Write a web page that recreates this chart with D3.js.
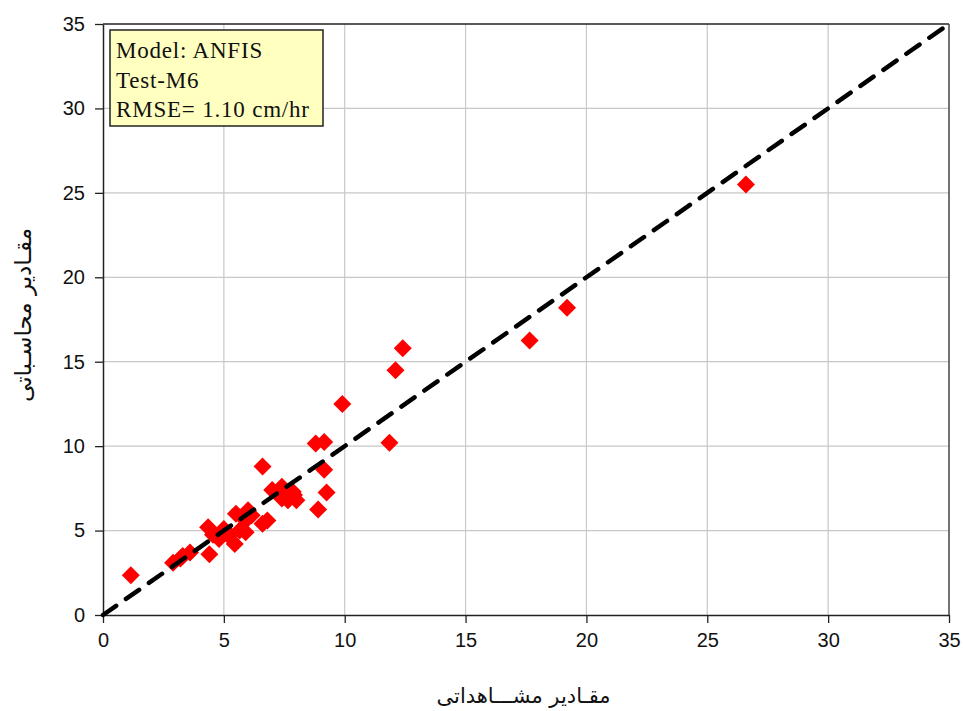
<!DOCTYPE html>
<html>
<head>
<meta charset="utf-8">
<script src="https://cdn.jsdelivr.net/npm/d3@7"></script>
<style>
  body { margin: 0; background: #fff; }
  svg { display: block; }
</style>
</head>
<body>
<svg id="chart" width="963" height="711"></svg>
<script>
var observed = [1.15, 2.9, 3.2, 3.3, 3.6, 4.4, 4.35, 4.55, 4.8, 5.0,
                5.2, 5.45, 5.5, 5.65, 5.9, 5.9, 6.0, 6.15, 6.6, 6.6,
                6.8, 7.0, 7.4, 7.4, 7.65, 7.85, 7.9, 8.0, 8.8, 9.15,
                9.15, 9.25, 8.9, 9.9, 11.85, 12.1, 12.4, 17.65, 19.2, 26.6]
var computed = [2.35, 3.1, 3.35, 3.5, 3.7, 3.6, 5.2, 4.75, 4.5, 5.1,
                4.7, 4.2, 6.0, 5.0, 4.9, 5.6, 6.2, 5.9, 8.8, 5.4,
                5.6, 7.4, 7.6, 6.9, 6.8, 7.3, 7.1, 6.8, 10.15, 10.25,
                8.6, 7.25, 6.25, 12.5, 10.2, 14.5, 15.8, 16.25, 18.2, 25.5]
var ticks = [0, 5, 10, 15, 20, 25, 30, 35]
var lineEnds = [0, 35]
var legendLines = ['Model: ANFIS', 'Test-M6', 'RMSE= 1.10 cm/hr']
var xTitle = 'مقـادیر مشـــاهداتی'
var yTitle = 'مقـادیر محاسـباتی'

var svg = d3.select('#chart')
var margin = { left: 103, top: 24, right: 14, bottom: 96 }
var W = 963 - margin.left - margin.right
var H = 711 - margin.top - margin.bottom

var x = d3.scaleLinear().domain([0, 35]).range([0, W])
var y = d3.scaleLinear().domain([0, 35]).range([H, 0])

var g = svg.append('g').attr('transform', `translate(${margin.left},${margin.top})`)

// grid
g.append('g').selectAll('line').data(ticks.slice(1, -1)).join('line')
    .attr('x1', d => x(d)).attr('x2', d => x(d))
    .attr('y1', 0).attr('y2', H)
    .attr('stroke', '#c8c8c8').attr('stroke-width', 1.2)
g.append('g').selectAll('line').data(ticks.slice(1, -1)).join('line')
    .attr('y1', d => y(d)).attr('y2', d => y(d))
    .attr('x1', 0).attr('x2', W)
    .attr('stroke', '#c8c8c8').attr('stroke-width', 1.2)

// frame top/right
g.append('line').attr('x1', 0).attr('x2', W).attr('y1', 0).attr('y2', 0)
    .attr('stroke', '#222').attr('stroke-width', 1.5)
g.append('line').attr('x1', W).attr('x2', W).attr('y1', 0).attr('y2', H)
    .attr('stroke', '#444').attr('stroke-width', 1.5)

// axes
var xAxis = g.append('g').attr('transform', `translate(0,${H})`)
    .call(d3.axisBottom(x).tickValues(ticks).tickSize(8).tickPadding(10).tickSizeOuter(0))
var yAxis = g.append('g')
    .call(d3.axisLeft(y).tickValues(ticks).tickSize(8).tickPadding(10).tickSizeOuter(0))
for (let ax of [xAxis, yAxis]) {
    ax.select('.domain').attr('stroke', '#222').attr('stroke-width', 1.5)
    ax.selectAll('.tick line').attr('stroke', '#222').attr('stroke-width', 1.3)
    ax.selectAll('text').attr('font-family', 'Liberation Sans, Arial, sans-serif')
        .attr('font-size', 20).attr('fill', '#111')
}

// points (rotated squares)
var half = 9
var diamond = `M0,${-half}L${half},0L0,${half}L${-half},0Z`
g.append('g').selectAll('path').data(observed.map((d, i) => [d, computed[i]])).join('path')
    .attr('d', diamond)
    .attr('transform', d => `translate(${x(d[0])},${y(d[1])})`)
    .attr('fill', '#ff0000')

// 1:1 line
g.append('line')
    .attr('x1', x(lineEnds[0])).attr('y1', y(lineEnds[0]))
    .attr('x2', x(lineEnds[1])).attr('y2', y(lineEnds[1]))
    .attr('stroke', '#000').attr('stroke-width', 4.5)
    .attr('stroke-dasharray', '16,12').attr('stroke-linecap', 'round')

// legend box
var box = svg.append('g').attr('transform', 'translate(110,30)')
box.append('rect').attr('width', 213).attr('height', 96)
    .attr('fill', '#ffffc0').attr('stroke', '#222').attr('stroke-width', 1.5)
box.selectAll('text').data(legendLines).join('text')
    .attr('x', 6).attr('y', (d, i) => 28 + i * 29.5)
    .attr('font-family', 'Liberation Serif, Times New Roman, serif')
    .attr('font-size', 23).attr('letter-spacing', 0.8).attr('fill', '#111')
    .text(d => d)

// titles
svg.append('text')
    .attr('x', margin.left + x(17.4)).attr('y', 703)
    .attr('text-anchor', 'middle')
    .attr('font-family', 'DejaVu Sans, sans-serif').attr('font-size', 21)
    .attr('direction', 'rtl')
    .attr('fill', '#111')
    .text(xTitle)
svg.append('text')
    .attr('transform', 'translate(31,315) rotate(-90)')
    .attr('text-anchor', 'middle')
    .attr('font-family', 'DejaVu Sans, sans-serif').attr('font-size', 23)
    .attr('direction', 'rtl')
    .attr('fill', '#111')
    .text(yTitle)
</script>
</body>
</html>
